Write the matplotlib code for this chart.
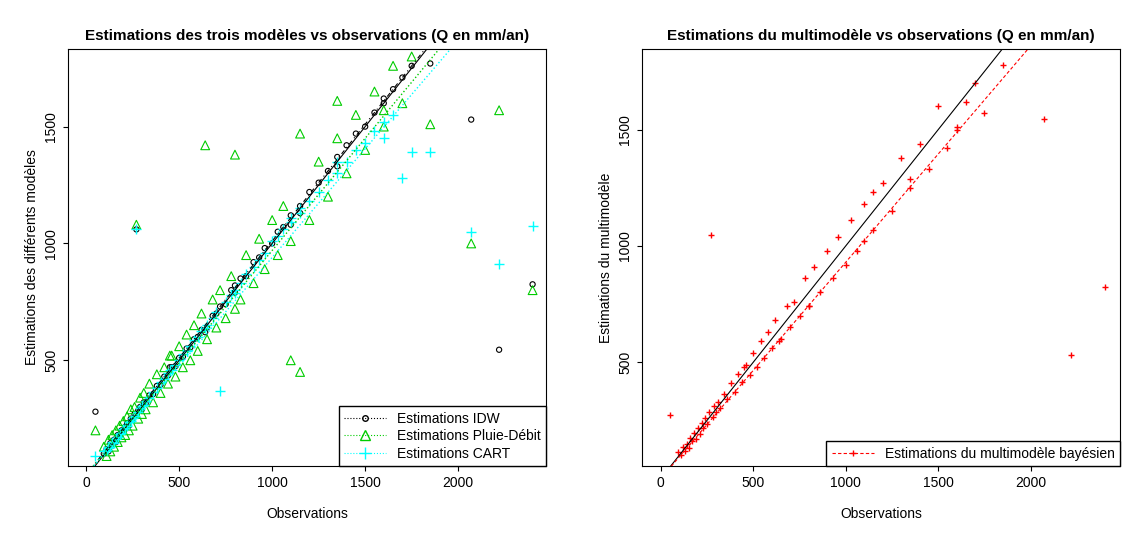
import numpy as np
import matplotlib.pyplot as plt

plt.rcParams['font.family'] = ['Liberation Sans', 'DejaVu Sans']

# observed runoff (mm/an) and model estimates
obs = [95, 110, 120, 130, 140, 150, 160, 170, 180, 190, 200, 210, 220, 230, 240, 250, 260, 270, 280, 290,
       300, 310, 320, 340, 360, 380, 400, 420, 440, 460, 480, 500, 520, 540, 560, 580, 600, 620, 650, 680,
       700, 720, 750, 780, 800, 830, 860, 900, 930, 960, 1000, 1030, 1060, 1100, 1150, 1200, 1250, 1300, 1350, 1400,
       1450, 1500, 1550, 1600, 1650, 1700, 1750, 1850, 2070, 2220, 2400, 50, 640, 1150, 800, 450, 1100, 1350, 1600]
idw = [100, 120, 110, 145, 135, 160, 150, 180, 175, 200, 195, 215, 230, 220, 250, 245, 270, 1060, 285, 300,
       290, 320, 315, 350, 355, 390, 395, 430, 435, 470, 475, 510, 515, 550, 555, 590, 600, 630, 640, 690,
       700, 730, 740, 800, 790, 850, 860, 920, 940, 980, 1000, 1050, 1070, 1120, 1160, 1220, 1260, 1310, 1370, 1420,
       1470, 1500, 1560, 1620, 1660, 1710, 1760, 1770, 1530, 545, 825, 280, 620, 1130, 820, 470, 1080, 1330, 1600]
pluie_debit = [130, 90, 160, 110, 180, 130, 200, 150, 220, 170, 240, 180, 260, 200, 290, 220, 300, 1080, 250, 340,
               270, 360, 290, 400, 320, 440, 360, 470, 400, 520, 430, 560, 470, 610, 500, 650, 540, 700, 590, 760,
               640, 800, 680, 860, 1380, 760, 950, 830, 1020, 890, 1100, 950, 1160, 500, 450, 1100, 1350, 1200, 1450, 1300,
               1550, 1400, 1650, 1500, 1760, 1600, 1800, 1510, 1000, 1570, 800, 200, 1420, 1470, 720, 520, 1010, 1610, 1570]
cart = [110, 115, 125, 130, 150, 145, 165, 170, 185, 190, 205, 210, 220, 235, 240, 255, 260, 1060, 280, 295,
        305, 310, 325, 340, 365, 380, 405, 420, 445, 460, 480, 500, 525, 540, 560, 585, 600, 625, 650, 680,
        705, 370, 750, 780, 800, 830, 870, 900, 930, 960, 1010, 1030, 1060, 1090, 1130, 1180, 1220, 1270, 1300, 1350,
        1400, 1430, 1480, 1520, 1550, 1280, 1390, 1390, 1050, 910, 1075, 90, 640, 1150, 790, 460, 1110, 1350, 1450]
multi = [115, 100, 135, 120, 150, 130, 175, 160, 195, 170, 215, 190, 240, 215, 260, 235, 285, 1045, 265, 310,
         285, 330, 305, 365, 340, 410, 370, 450, 415, 490, 445, 540, 480, 590, 520, 630, 560, 680, 600, 740,
         650, 760, 700, 860, 740, 910, 800, 980, 860, 1040, 920, 1110, 980, 1180, 1070, 1270, 1150, 1380, 1250, 1440,
         1330, 1600, 1420, 1510, 1620, 1700, 1570, 1780, 1545, 530, 825, 275, 590, 1230, 740, 480, 1020, 1290, 1500]

# regression lines (slope, intercept)
fit_idw = (1.0, 10)
fit_pd = (0.96, 10)
fit_cart = (0.93, 10)
fit_multi = (0.93, 0)

xl = np.array([-100, 2500])

fig, (ax1, ax2) = plt.subplots(1, 2, figsize=(11.35, 5.42), dpi=100)
fig.subplots_adjust(left=0.06, right=0.987, top=0.91, bottom=0.14, wspace=0.2)

ax1.scatter(obs, idw, s=14, facecolors='none', edgecolors='black', linewidths=0.8)
ax1.scatter(obs, pluie_debit, s=40, marker='^', facecolors='none', edgecolors='#00cc00', linewidths=0.8)
ax1.scatter(obs, cart, s=60, marker='+', color='cyan', linewidths=1)
ax1.plot(xl, xl, color='black', lw=0.8)
ax1.plot(xl, fit_idw[0] * xl + fit_idw[1], color='black', ls=(0, (4, 3, 1, 3)), lw=0.8)
ax1.plot(xl, fit_pd[0] * xl + fit_pd[1], color='#00cc00', ls=':', lw=1)
ax1.plot(xl, fit_cart[0] * xl + fit_cart[1], color='cyan', ls=':', lw=1)
h1 = ax1.plot([], [], color='black', ls=':', marker='o', mfc='none', ms=4, lw=0.8)[0]
h2 = ax1.plot([], [], color='#00cc00', ls=':', marker='^', mfc='none', ms=7, lw=0.8)[0]
h3 = ax1.plot([], [], color='cyan', ls=':', marker='+', ms=9, lw=0.8)[0]
ax1.legend([h1, h2, h3], ['Estimations IDW', 'Estimations Pluie-Débit', 'Estimations CART'],
           loc='lower right', fancybox=False, edgecolor='black', framealpha=1, fontsize=10,
           borderaxespad=0, handlelength=3, labelspacing=0.25)
ax1.set_xlim(-97, 2474)
ax1.set_ylim(47, 1833)
ax1.set_title('Estimations des trois modèles vs observations (Q en mm/an)', fontweight='bold', fontsize=11)
ax1.set_ylabel('Estimations des différents modèles', fontsize=10)

ax2.scatter(obs, multi, s=22, marker='+', color='red', linewidths=1)
ax2.plot(xl, xl, color='black', lw=0.8)
ax2.plot(xl, fit_multi[0] * xl + fit_multi[1], color='red', ls='--', lw=0.8, dashes=(3, 2))
h4 = ax2.plot([], [], color='red', ls='--', marker='+', ms=5, lw=0.8, dashes=(3, 2))[0]
ax2.legend([h4], ['Estimations du multimodèle bayésien'], loc='lower right', fancybox=False,
           edgecolor='black', framealpha=1, fontsize=10, borderaxespad=0, handlelength=3)
ax2.set_xlim(-102, 2485)
ax2.set_ylim(53, 1848)
ax2.set_title('Estimations du multimodèle vs observations (Q en mm/an)', fontweight='bold', fontsize=11)
ax2.set_ylabel('Estimations du multimodèle', fontsize=10)

for ax in (ax1, ax2):
    ax.set_xlabel('Observations', fontsize=10, labelpad=12)
    ax.set_xticks([0, 500, 1000, 1500, 2000])
    ax.set_yticks([500, 1000, 1500])
    ax.tick_params(axis='y', labelrotation=90)
    for lab in ax.get_yticklabels():
        lab.set_va('center')
    ax.tick_params(labelsize=10)

plt.savefig('out.png')
